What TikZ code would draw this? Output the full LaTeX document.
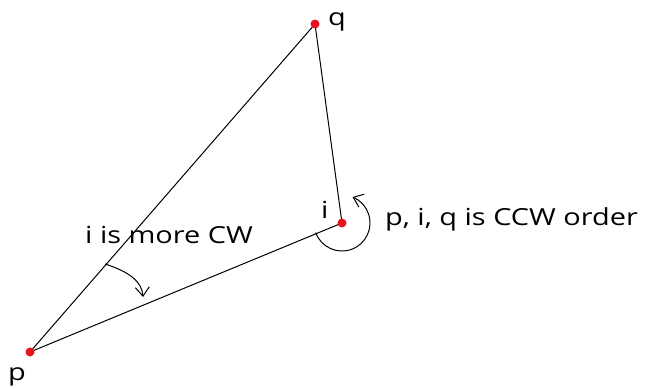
\documentclass[tikz,border=0pt]{standalone}
\usepackage{fontspec}
\setmainfont[FakeStretch=1.23]{Open Sans}
\usetikzlibrary{arrows.meta}
\definecolor{dotred}{RGB}{230,20,30}
\tikzset{
  pt/.style={circle,fill=dotred,inner sep=0pt,minimum size=9pt},
  lbl/.style={inner sep=0pt,anchor=base west,font=\fontsize{23.5}{28}\selectfont},
  seg/.style={line width=1pt,black},
  turn/.style={line width=1pt,black,-{Straight Barb[length=9pt,width=14pt]}}
}
\begin{document}
\begin{tikzpicture}[x=1pt,y=-1pt]
\useasboundingbox (0,0) rectangle (647,388);
\coordinate (P) at (30,352);
\coordinate (Q) at (315,24);
\coordinate (I) at (342,223);
\draw[seg] (P) -- (Q);
\draw[seg] (Q) -- (I);
\draw[seg] (P) -- (I);
\node[pt] (p) at (P) {};
\node[pt] (q) at (Q) {};
\node[pt] (i) at (I) {};
\node[lbl] (lp) at (8,380) {p};
\node[lbl] (lq) at (328,25) {q};
\node[lbl] (li) at (321,218) {i};
\node[lbl] (t1) at (385,225) {p, i, q is CCW order};
\node[lbl] (t2) at (85,243) {i is more CW};
\draw[turn] ([shift={(200:28pt)}]I) arc[start angle=200,end angle=428,radius=28pt];
\draw[turn] (105,264) .. controls (130,272) and (142,282) .. (143,297);
\end{tikzpicture}
\end{document}
